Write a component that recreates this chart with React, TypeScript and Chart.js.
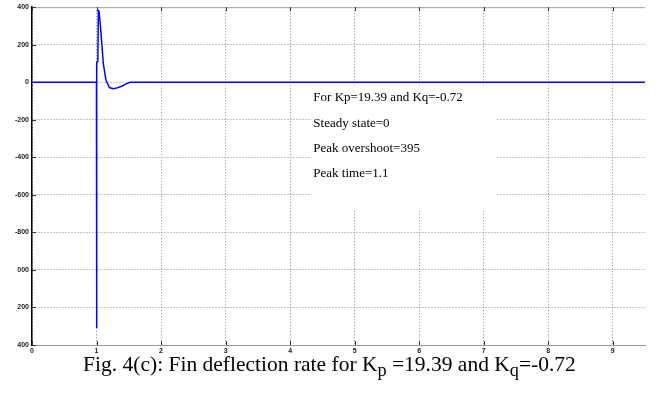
import React, { useEffect, useRef } from "react";
import { Chart, registerables } from "chart.js";

Chart.register(...registerables);

// ---- data ----
const timeValues = [0, 0.999, 1.0, 1.003, 1.005, 1.02, 1.028, 1.04, 1.06, 1.08, 1.105, 1.147, 1.2, 1.26, 1.32, 1.39, 1.45, 1.52, 9.5];
const rateValues = [0, 0, -1310, -720, 107, 110, 382, 378, 300, 215, 100, 10, -28, -34, -30, -21, -10, 0, 0];

const yTickValues = [400, 200, 0, -200, -400, -600, -800, -1000, -1200, -1400];
const yTickLabels = ["400", "200", "0", "-200", "-400", "-600", "-800", "000", "200", "400"];
const xTickValues = [0, 1, 2, 3, 4, 5, 6, 7, 8, 9];
const xTickLabels = ["0", "1", "2", "3", "4", "5", "6", "7", "8", "9"];

const annotationLines = [
  "For Kp=19.39 and Kq=-0.72",
  "Steady state=0",
  "Peak overshoot=395",
  "Peak time=1.1",
];
// annotation placement in data units
const annotationX = 4.36;
const annotationY = [-80, -219, -352, -485];
const annotationBox = { x0: 4.33, x1: 7.2, y0: -21, y1: -683 };

const W = 659;
const CANVAS_H = 358;

const annotationPlugin = {
  id: "annot",
  beforeDatasetsDraw(chart: any) {
    const { ctx, scales, chartArea } = chart;
    const xs = scales.x;
    const ys = scales.y;
    ctx.save();
    // white box
    const bx0 = xs.getPixelForValue(annotationBox.x0);
    const bx1 = xs.getPixelForValue(annotationBox.x1);
    const by0 = ys.getPixelForValue(annotationBox.y0);
    const by1 = ys.getPixelForValue(annotationBox.y1);
    ctx.fillStyle = "#ffffff";
    ctx.fillRect(bx0, by0, bx1 - bx0, by1 - by0);
    // solid top border
    ctx.strokeStyle = "#a8a8a8";
    ctx.lineWidth = 1;
    ctx.beginPath();
    ctx.moveTo(chartArea.left, chartArea.top + 0.5);
    ctx.lineTo(chartArea.right, chartArea.top + 0.5);
    ctx.stroke();
    // inward tick marks
    ctx.strokeStyle = "#333333";
    ctx.lineWidth = 1;
    xTickValues.forEach((v) => {
      const px = Math.round(xs.getPixelForValue(v)) + 0.5;
      ctx.beginPath();
      ctx.moveTo(px, chartArea.top);
      ctx.lineTo(px, chartArea.top + 4);
      ctx.moveTo(px, chartArea.bottom);
      ctx.lineTo(px, chartArea.bottom - 4);
      ctx.stroke();
    });
    yTickValues.forEach((v) => {
      const py = Math.round(ys.getPixelForValue(v)) + 0.5;
      ctx.beginPath();
      ctx.moveTo(chartArea.left, py);
      ctx.lineTo(chartArea.left + 4, py);
      ctx.stroke();
    });
    // text
    ctx.fillStyle = "#000000";
    ctx.font = '13px "Liberation Serif", "Times New Roman", serif';
    ctx.textBaseline = "middle";
    ctx.textAlign = "left";
    annotationLines.forEach((line, i) => {
      ctx.fillText(line, xs.getPixelForValue(annotationX), ys.getPixelForValue(annotationY[i]));
    });
    ctx.restore();
  },
};

function FinChart() {
  const ref = useRef<HTMLCanvasElement | null>(null);
  useEffect(() => {
    if (!ref.current) return;
    const points = timeValues.map((t, i) => ({ x: t, y: rateValues[i] }));
    const tickFont = { family: '"Liberation Sans", Arial, sans-serif', size: 7, weight: "bold" as const };
    const chart = new Chart(ref.current, {
      type: "line",
      data: {
        datasets: [
          {
            data: points,
            borderColor: "#0000ff",
            borderWidth: 1.5,
            pointRadius: 0,
            tension: 0,
            fill: false,
          },
        ],
      },
      options: {
        animation: false,
        responsive: false,
        events: [],
        layout: { padding: { top: 7, right: 14, left: 0, bottom: 0 } },
        plugins: { legend: { display: false }, tooltip: { enabled: false }, title: { display: false } },
        scales: {
          x: {
            type: "linear",
            min: 0,
            max: 9.5,
            afterFit: (s: any) => {
              s.height = 13;
            },
            afterBuildTicks: (s: any) => {
              s.ticks = xTickValues.map((v) => ({ value: v }));
            },
            ticks: {
              padding: 2,
              color: "#222222",
              font: tickFont,
              maxRotation: 0,
              autoSkip: false,
              callback: (v: any) => {
                const i = xTickValues.indexOf(Number(v));
                return i >= 0 ? xTickLabels[i] : "";
              },
            },
            grid: { color: "#8a8a8a", lineWidth: 1, drawTicks: false },
            border: { display: true, color: "#9a9a9a", width: 1, dash: [1, 2] },
          },
          y: {
            type: "linear",
            min: -1400,
            max: 400,
            afterFit: (s: any) => {
              s.width = 32;
            },
            afterBuildTicks: (s: any) => {
              s.ticks = yTickValues.slice().reverse().map((v) => ({ value: v }));
            },
            ticks: {
              padding: 3,
              color: "#222222",
              font: tickFont,
              autoSkip: false,
              callback: (v: any) => {
                const i = yTickValues.indexOf(Number(v));
                return i >= 0 ? yTickLabels[i] : "";
              },
            },
            grid: { color: "#8a8a8a", lineWidth: 1, drawTicks: false },
            border: { display: true, color: "#000000", width: 1.5, dash: [1, 2] },
          },
        },
      },
      plugins: [annotationPlugin],
    });
    return () => chart.destroy();
  }, []);
  return <canvas ref={ref} width={W} height={CANVAS_H} style={{ display: "block", width: W, height: CANVAS_H }} />;
}

export default function App() {
  const sub: React.CSSProperties = { fontSize: "0.85em", verticalAlign: "-0.3em", lineHeight: 0 };
  return (
    <div
      style={{
        position: "absolute",
        left: 0,
        top: 0,
        width: W,
        height: 397,
        background: "#ffffff",
        overflow: "hidden",
      }}
    >
      <FinChart />
      <div
        style={{
          position: "absolute",
          left: 0,
          top: 352,
          width: W,
          textAlign: "center",
          fontFamily: '"Liberation Serif", "Times New Roman", serif',
          fontSize: 21.5,
          lineHeight: "24px",
          color: "#000000",
          whiteSpace: "nowrap",
        }}
      >
        Fig. 4(c): Fin deflection rate for K<span style={sub}>p</span> =19.39 and K<span style={sub}>q</span>=-0.72
      </div>
    </div>
  );
}
